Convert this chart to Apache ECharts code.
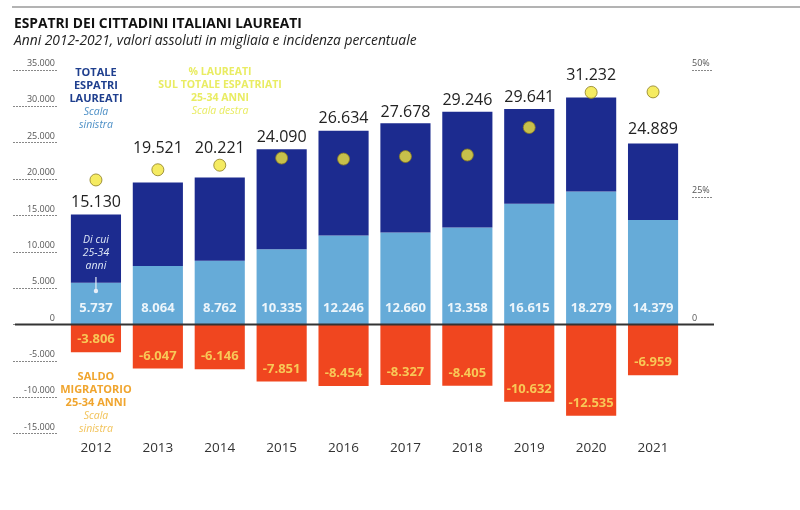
<!DOCTYPE html>
<html>
<head>
<meta charset="utf-8">
<script src="https://cdn.jsdelivr.net/npm/echarts@6/dist/echarts.min.js"></script>
<style>
html,body{margin:0;padding:0;background:#fff;}
#c{width:800px;height:510px;}
</style>
</head>
<body>
<div id="c"></div>
<script>
const years = ['2012','2013','2014','2015','2016','2017','2018','2019','2020','2021'];
const totalLaureati = [15130, 19521, 20221, 24090, 26634, 27678, 29246, 29641, 31232, 24889];
const laureati2534 = [5737, 8064, 8762, 10335, 12246, 12660, 13358, 16615, 18279, 14379];
const saldo2534 = [-3806, -6047, -6146, -7851, -8454, -8327, -8405, -10632, -12535, -6959];
const pctLaureati = [28.4, 30.4, 31.3, 32.7, 32.5, 33.0, 33.3, 38.7, 45.6, 45.7];
const leftTicks = [-15000, 35000, 5000];
const rightTicks = [0, 25, 50];

// label lift above each total bar (px), so labels clear the yellow dots as in the original
const totalLabelGap = [4, 26, 21, 4, 4, 3, 3, 4, 14, 6];

const FONT = 'Open Sans';
const fmt = v => {
  const s = Math.abs(v).toString();
  const withDots = s.replace(/\B(?=(\d{3})+(?!\d))/g, '.');
  return (v < 0 ? '-' : '') + withDots;
};
const remainder = totalLaureati.map((t, i) => ({
  value: t - laureati2534[i],
  label: { distance: totalLabelGap[i] }
}));
const rightMax = rightTicks[2];
const rightMin = leftTicks[0] / leftTicks[1] * rightMax;

const chart = echarts.init(document.getElementById('c'));

const option = {
  animation: false,
  backgroundColor: '#fff',
  textStyle: { fontFamily: FONT },
  grid: { left: 65, right: 116, top: 70, bottom: 76.4, containLabel: false },
  xAxis: {
    type: 'category',
    data: years,
    axisLine: { show: false, onZero: false },
    axisTick: { show: false },
    axisLabel: { color: '#333', fontSize: 13.5, margin: 8, fontFamily: FONT }
  },
  yAxis: [
    {
      type: 'value',
      min: leftTicks[0], max: leftTicks[1], interval: leftTicks[2],
      position: 'left', offset: 8,
      splitLine: { show: false },
      axisLine: { show: false },
      axisTick: { show: true, inside: false, length: 44, lineStyle: { color: '#888', type: [2, 1], width: 1 } },
      axisLabel: {
        color: '#555', fontSize: 9, margin: 2, verticalAlign: 'bottom', padding: [0, 0, 2, 0],
        formatter: v => fmt(v), fontFamily: FONT
      }
    },
    {
      type: 'value',
      min: rightMin, max: rightMax,
      position: 'right', offset: 8,
      splitLine: { show: false },
      axisLine: { show: false },
      axisTick: { show: true, length: 21, customValues: rightTicks, lineStyle: { color: '#888', type: [2, 1], width: 1 } },
      axisLabel: {
        customValues: rightTicks, color: '#555', fontSize: 9, margin: 0, align: 'left',
        verticalAlign: 'bottom', padding: [0, 0, 2, 0],
        formatter: v => (v === 0 ? '0' : v + '%'), fontFamily: FONT
      }
    }
  ],
  series: [
    {
      name: 'Di cui 25-34 anni', type: 'bar', stack: 'a', data: laureati2534,
      barCategoryGap: '19%',
      itemStyle: { color: '#66abd8' },
      label: {
        show: true, position: 'insideBottom', distance: 10,
        color: 'rgba(255,255,255,0.88)', fontSize: 13, fontWeight: 'bold',
        formatter: p => fmt(p.value), fontFamily: FONT
      }
    },
    {
      name: 'Totale espatri laureati', type: 'bar', stack: 'a', data: remainder,
      itemStyle: { color: '#1c2b8f' },
      label: {
        show: true, position: 'top', distance: 4,
        color: '#222', fontSize: 16,
        formatter: p => fmt(totalLaureati[p.dataIndex]), fontFamily: FONT
      }
    },
    {
      name: 'Saldo migratorio 25-34 anni', type: 'bar', stack: 'a', data: saldo2534,
      itemStyle: { color: '#f0461f' },
      label: {
        show: true, position: 'insideBottom', distance: 6,
        color: '#f8c857', fontSize: 13, fontWeight: 'bold',
        formatter: p => fmt(p.value), fontFamily: FONT
      }
    },
    {
      name: '% laureati', type: 'scatter', yAxisIndex: 1, data: pctLaureati,
      symbolSize: 12, z: 5,
      itemStyle: { color: '#f3e639', borderColor: '#8c7d22', borderWidth: 1 }
    }
  ],
  graphic: []
};

chart.setOption(option);

const y0 = chart.convertToPixel({ yAxisIndex: 0 }, 0);
const xc = chart.convertToPixel({ xAxisIndex: 0 }, years[0]);

function txt(id, x, y, text, style) {
  return {
    id, type: 'text', x, y, z: 20,
    style: Object.assign({ text, fontFamily: FONT, align: 'center', verticalAlign: 'middle' }, style)
  };
}

const yel = '#e9ec62';
const gfx = [
  { id: 'topline', type: 'line', z: 20, shape: { x1: 12, y1: 7, x2: 800, y2: 7 }, style: { stroke: '#9a9a9a', lineWidth: 1.5 } },
  { id: 'zeroline', type: 'line', z: 20, shape: { x1: 15, y1: y0, x2: 714, y2: y0 }, style: { stroke: '#333', lineWidth: 2 } },
  { id: 'title', type: 'text', x: 14, y: 24, z: 20, style: { text: 'ESPATRI DEI CITTADINI ITALIANI LAUREATI', fontFamily: FONT, fontWeight: 'bold', fontSize: 13.8, fill: '#111', verticalAlign: 'middle' } },
  { id: 'subtitle', type: 'text', x: 14, y: 41, z: 20, style: { text: 'Anni 2012-2021, valori assoluti in migliaia e incidenza percentuale', fontFamily: FONT, fontStyle: 'italic', fontSize: 13.8, fill: '#222', verticalAlign: 'middle' } },
  txt('t1', xc, 73, 'TOTALE', { fontWeight: 'bold', fontSize: 11, fill: '#1f3f8e' }),
  txt('t2', xc, 86, 'ESPATRI', { fontWeight: 'bold', fontSize: 11, fill: '#1f3f8e' }),
  txt('t3', xc, 99, 'LAUREATI', { fontWeight: 'bold', fontSize: 11, fill: '#1f3f8e' }),
  txt('t4', xc, 112, 'Scala', { fontStyle: 'italic', fontSize: 10.5, fill: '#4c8fc6' }),
  txt('t5', xc, 125, 'sinistra', { fontStyle: 'italic', fontSize: 10.5, fill: '#4c8fc6' }),
  txt('y1', 220, 72, '% LAUREATI', { fontWeight: 'bold', fontSize: 10.5, fill: yel }),
  txt('y2', 220, 85, 'SUL TOTALE ESPATRIATI', { fontWeight: 'bold', fontSize: 10.5, fill: yel }),
  txt('y3', 220, 98, '25-34 ANNI', { fontWeight: 'bold', fontSize: 10.5, fill: yel }),
  txt('y4', 220, 111, 'Scala destra', { fontStyle: 'italic', fontSize: 10.5, fill: yel }),
  txt('d1', xc, 240, 'Di cui', { fontStyle: 'italic', fontSize: 10.5, fill: '#dfe8f6' }),
  txt('d2', xc, 253, '25-34', { fontStyle: 'italic', fontSize: 10.5, fill: '#dfe8f6' }),
  txt('d3', xc, 266, 'anni', { fontStyle: 'italic', fontSize: 10.5, fill: '#dfe8f6' }),
  { id: 'arrow', type: 'line', z: 20, shape: { x1: xc, y1: 277, x2: xc, y2: 291 }, style: { stroke: '#e8eef8', lineWidth: 1.2 } },
  { id: 'arrowhead', type: 'circle', z: 20, shape: { cx: xc, cy: 291, r: 2.2 }, style: { fill: '#e8eef8' } },
  txt('s1', xc, 377, 'SALDO', { fontWeight: 'bold', fontSize: 11, fill: '#f0a52e' }),
  txt('s2', xc, 390, 'MIGRATORIO', { fontWeight: 'bold', fontSize: 11, fill: '#f0a52e' }),
  txt('s3', xc, 403, '25-34 ANNI', { fontWeight: 'bold', fontSize: 11, fill: '#f0a52e' }),
  txt('s4', xc, 416, 'Scala', { fontStyle: 'italic', fontSize: 10.5, fill: '#f2c35a' }),
  txt('s5', xc, 429, 'sinistra', { fontStyle: 'italic', fontSize: 10.5, fill: '#f2c35a' })
];
chart.setOption({ graphic: gfx });
</script>
</body>
</html>
